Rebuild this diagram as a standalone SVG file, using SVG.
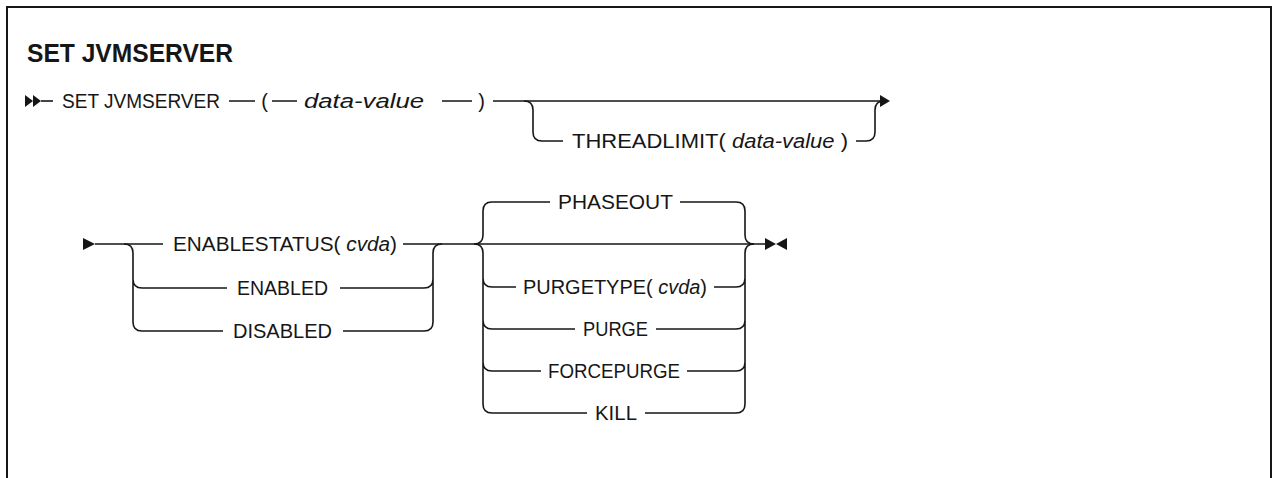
<svg xmlns="http://www.w3.org/2000/svg" width="1273" height="478" viewBox="0 0 1273 478">
<style>
.ln{fill:none;stroke:#161616;stroke-width:1.6}
.ar{fill:#161616}
text{font-family:"Liberation Sans",Arial,sans-serif;font-size:20px;fill:#161616}
.t{font-size:25px;font-weight:bold}
.i{font-style:italic}
.m{text-anchor:middle}
</style>
<rect width="1273" height="478" fill="#fff"/>
<path class="ln" d="M7,478 V7 H1271 V478" style="stroke-width:2"/>
<text class="t" x="27" y="62" textLength="206" lengthAdjust="spacingAndGlyphs">SET JVMSERVER</text>
<g id="connectors">
  <polygon class="ar" points="25,95 33,101 25,107"/>
  <polygon class="ar" points="33,95 41,101 33,107"/>
  <path class="ln" d="M41,101 H53"/>
  <path class="ln" d="M229,101 H255 M272,101 H297 M442,101 H472 M493,101 H880"/>
  <polygon class="ar" points="880,95 890,101 880,107"/>
  <path class="ln" d="M524,101 Q533,101 533,110 V132 Q533,141 542,141 H563"/>
  <path class="ln" d="M856,141 H866 Q875,141 875,132 V110 Q875,101 884,101"/>
  <polygon class="ar" points="83,238 95,244 83,250"/>
  <path class="ln" d="M95,244 H163 M403,244 H765"/>
  <path class="ln" d="M124,244 Q133,244 133,253 V322 Q133,331 142,331 H223 M133,279 Q133,288 142,288 H227"/>
  <path class="ln" d="M343,331 H424 Q433,331 433,322 V253 Q433,244 442,244 M340,288 H424 Q433,288 433,279"/>
  <path class="ln" d="M474,244 Q483,244 483,235 V211 Q483,202 492,202 H550 M680,202 H736 Q745,202 745,211 V235 Q745,244 754,244"/>
  <path class="ln" d="M474,244 Q483,244 483,253 V404 Q483,413 492,413 H587 M483,278 Q483,287 492,287 H516 M483,320 Q483,329 492,329 H575 M483,362 Q483,371 492,371 H541"/>
  <path class="ln" d="M645,413 H736 Q745,413 745,404 V253 Q745,244 754,244 M714,287 H736 Q745,287 745,278 M656,329 H736 Q745,329 745,320 M687,371 H736 Q745,371 745,362"/>
  <polygon class="ar" points="765,238 776,244 765,250"/>
  <polygon class="ar" points="787,238 776,244 787,250"/>
</g>
<g id="n-set"><text x="62" y="108" textLength="158" lengthAdjust="spacingAndGlyphs">SET JVMSERVER</text></g>
<g id="n-lparen"><text class="m" x="264.5" y="108">(</text></g>
<g id="n-datavalue"><text class="i" x="304" y="108" textLength="120" lengthAdjust="spacingAndGlyphs">data-value</text></g>
<g id="n-rparen"><text class="m" x="481.5" y="108">)</text></g>
<g id="n-threadlimit"><text x="572" y="148" textLength="276" lengthAdjust="spacingAndGlyphs">THREADLIMIT( <tspan class="i">data-value</tspan> )</text></g>
<g id="n-enablestatus"><text x="173" y="251" textLength="224" lengthAdjust="spacingAndGlyphs">ENABLESTATUS(  <tspan class="i">cvda</tspan>)</text></g>
<g id="n-enabled"><text x="237" y="295" textLength="91" lengthAdjust="spacingAndGlyphs">ENABLED</text></g>
<g id="n-disabled"><text x="233" y="338" textLength="99" lengthAdjust="spacingAndGlyphs">DISABLED</text></g>
<g id="n-phaseout"><text x="558" y="209" textLength="115" lengthAdjust="spacingAndGlyphs">PHASEOUT</text></g>
<g id="n-purgetype"><text x="523" y="294" textLength="184" lengthAdjust="spacingAndGlyphs">PURGETYPE( <tspan class="i">cvda</tspan>)</text></g>
<g id="n-purge"><text x="583" y="336" textLength="65" lengthAdjust="spacingAndGlyphs">PURGE</text></g>
<g id="n-forcepurge"><text x="548" y="378" textLength="132" lengthAdjust="spacingAndGlyphs">FORCEPURGE</text></g>
<g id="n-kill"><text x="595" y="420" textLength="42" lengthAdjust="spacingAndGlyphs">KILL</text></g>
</svg>
